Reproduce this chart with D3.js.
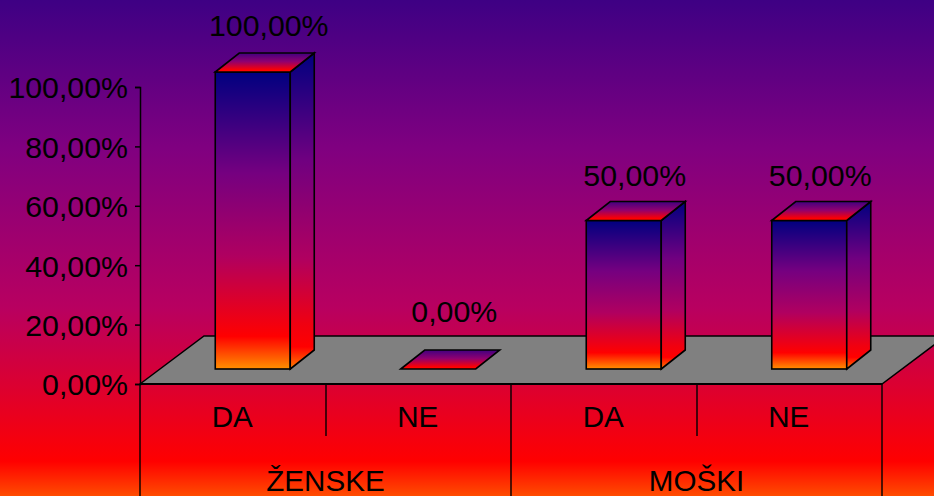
<!DOCTYPE html>
<html>
<head>
<meta charset="utf-8">
<script src="https://cdn.jsdelivr.net/npm/d3@7"></script>
<style>
  html, body { margin: 0; padding: 0; background: #000; overflow: hidden; }
  text { font-family: "Liberation Sans", Arial, sans-serif; fill: #000; }
</style>
</head>
<body>
<div id="chart"></div>
<script>
const groups = ["ŽENSKE", "MOŠKI"];
const categories = ["DA", "NE", "DA", "NE"];
const categoryGroups = [0, 0, 1, 1];
const values = [100, 0, 50, 50];
const valueLabels = ["100,00%", "0,00%", "50,00%", "50,00%"];
const tickValues = [0, 20, 40, 60, 80, 100];
const tickLabels = ["0,00%", "20,00%", "40,00%", "60,00%", "80,00%", "100,00%"];

const width = 934, height = 496;
const textSize = 29.6, numberSize = 30.3;
const plot = {left: 140, right: 882, top: 87, bottom: 384};
const floorDepth = {x: 64, y: -48};   // how far the floor runs back
const barOffset = {x: 20, y: -15};    // front of bar sits this far behind the axis
const barDepth = {x: 24, y: -19};

const svg = d3.select("#chart").append("svg").attr("width", width).attr("height", height)
  .style("display", "block");
const defs = svg.append("defs");

function add_gradient(id, stops, attrs) {
  const g = defs.append("linearGradient").attr("id", id)
    .attr("x1", 0).attr("y1", 0).attr("x2", 0).attr("y2", 1);
  if (attrs) Object.entries(attrs).forEach(([k, v]) => g.attr(k, v));
  g.selectAll("stop").data(stops).enter().append("stop")
    .attr("offset", d => d[0]).attr("stop-color", d => d[1]);
}

add_gradient("bgGrad", [[0, "#3e0084"], [0.3, "#800080"], [0.62, "#b80060"], [0.78, "#dc0030"], [0.93, "#ff0000"], [1, "#ff4c00"]],
  {gradientUnits: "userSpaceOnUse", x1: 0, y1: 0, x2: 0, y2: height});
add_gradient("barGrad", [[0, "#000080"], [0.34, "#750080"], [0.62, "#b00060"], [0.89, "#ff0000"], [1, "#ff9000"]]);
add_gradient("sideGrad", [[0, "#000080"], [0.34, "#700080"], [0.65, "#b00060"], [0.86, "#f00010"], [0.93, "#ff0000"], [1, "#ff8000"]]);
add_gradient("topGrad", [[0, "#400080"], [0.45, "#900070"], [0.9, "#ff0000"], [1, "#ff1000"]]);

svg.append("rect").attr("width", width).attr("height", height).attr("fill", "url(#bgGrad)");

const x = d3.scaleBand().domain(d3.range(categories.length)).range([plot.left, plot.right]);
const y = d3.scaleLinear().domain([0, 100]).range([plot.bottom, plot.top]);
const barWidth = 75;
const poly = pts => d3.line()(pts) + "Z";

// floor
svg.append("path")
  .attr("d", poly([
    [plot.left, plot.bottom],
    [plot.left + floorDepth.x, plot.bottom + floorDepth.y],
    [plot.right + floorDepth.x, plot.bottom + floorDepth.y],
    [plot.right, plot.bottom]
  ]))
  .attr("fill", "#808080").attr("stroke", "#000").attr("stroke-width", 1.5);

// bars
const yBase = y(0) + barOffset.y;
values.forEach((d, i) => {
  const g = svg.append("g").attr("class", "bar");
  const bx = x(i) + (x.bandwidth() - barWidth) / 2 + barOffset.x;
  const t = y(d) + barOffset.y;
  if (d > 0) {
    g.append("rect").attr("x", bx).attr("y", t).attr("width", barWidth).attr("height", yBase - t)
      .attr("fill", "url(#barGrad)").attr("stroke", "#000").attr("stroke-width", 1.6);
    g.append("path")
      .attr("d", poly([[bx + barWidth, yBase], [bx + barWidth + barDepth.x, yBase + barDepth.y],
        [bx + barWidth + barDepth.x, t + barDepth.y], [bx + barWidth, t]]))
      .attr("fill", "url(#sideGrad)").attr("stroke", "#000").attr("stroke-width", 1.6);
  }
  g.append("path")
    .attr("d", poly([[bx, t], [bx + barDepth.x, t + barDepth.y],
      [bx + barWidth + barDepth.x, t + barDepth.y], [bx + barWidth, t]]))
    .attr("fill", "url(#topGrad)").attr("stroke", "#000").attr("stroke-width", 1.6);
  g.append("text")
    .attr("x", bx + barWidth / 2 + (d === 50 ? 11 : 16))
    .attr("y", y(d) + (d === 0 ? -62 : d === 50 ? -50 : -51))
    .attr("text-anchor", "middle").attr("font-size", numberSize)
    .text(valueLabels[i]);
});

// value axis
const yAxis = d3.axisLeft(y).tickValues(tickValues)
  .tickFormat((d, i) => tickLabels[i]).tickSize(5).tickPadding(7);
const yG = svg.append("g").attr("transform", `translate(${plot.left},0)`).call(yAxis);
yG.select(".domain").attr("stroke", "#000").attr("stroke-width", 1.5);
yG.selectAll(".tick line").attr("stroke", "#000").attr("stroke-width", 1.5);
yG.selectAll(".tick text").attr("font-size", numberSize).attr("font-family", null).attr("fill", "#000")
  .attr("dy", "0.36em");

// category axis, two levels
svg.append("line").attr("x1", plot.left).attr("x2", plot.right).attr("y1", plot.bottom).attr("y2", plot.bottom)
  .attr("stroke", "#000").attr("stroke-width", 2);

const edge = k => Math.ceil(x(k) || plot.right);
svg.selectAll("line.groupEdge").data([0, 2, 4]).enter().append("line").attr("class", "groupEdge")
  .attr("x1", edge).attr("x2", edge).attr("y1", plot.bottom).attr("y2", height)
  .attr("stroke", "#000").attr("stroke-width", 1.4);
svg.selectAll("line.catEdge").data([1, 3]).enter().append("line").attr("class", "catEdge")
  .attr("x1", edge).attr("x2", edge).attr("y1", plot.bottom).attr("y2", 436)
  .attr("stroke", "#000").attr("stroke-width", 1.4);

svg.selectAll("text.cat").data(categories).enter().append("text").attr("class", "cat")
  .attr("x", (d, i) => x(i) + x.bandwidth() / 2 - 0.5)
  .attr("y", 427).attr("text-anchor", "middle").attr("font-size", textSize)
  .text(d => d);

svg.selectAll("text.group").data(groups).enter().append("text").attr("class", "group")
  .attr("x", (d, i) => {
    const members = categoryGroups.map((g, k) => g === i ? k : -1).filter(k => k >= 0);
    return (x(members[0]) + x(members[members.length - 1]) + x.bandwidth()) / 2;
  })
  .attr("y", 491).attr("text-anchor", "middle").attr("font-size", textSize)
  .text(d => d);
</script>
</body>
</html>
